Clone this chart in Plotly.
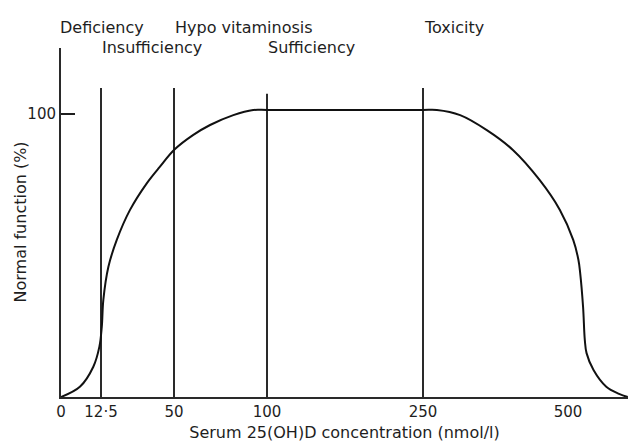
import numpy as np
import plotly.graph_objects as go

# ---------------- data ----------------
# serum 25(OH)D concentration (nmol/l) and normal function (%)
conc = [0, 5.9, 10.1, 12.0, 12.9, 13.7, 16.3, 20.6, 27.4, 36.0, 42.8, 50.4, 60.4, 69.4,
        81.9, 92.6, 100, 150, 200, 250, 274, 314, 360, 405, 451, 486, 509, 518, 521,
        526, 529, 532, 544, 566, 588, 603]
func = [0, 3.6, 10.7, 17.8, 24.8, 34.3, 46.0, 55.5, 66.1, 75.5, 81.4, 87.5, 92.6, 96.1,
        99.6, 101.4, 101.4, 101.4, 101.4, 101.4, 101.4, 99.6, 94.3, 87.3, 76.7, 66.1,
        55.5, 48.4, 43.8, 31.8, 20.1, 15.5, 9.5, 3.6, 1.1, 0.0]

thresholds = [12.5, 50, 100, 250]
threshold_top = [109.2, 109.2, 107.1, 109.2]

labels = ["Deficiency", "Insufficiency", "Hypo vitaminosis", "Sufficiency", "Toxicity"]
label_at = [0, 12.5, 50, 100, 250]
label_row = [0, 1, 0, 1, 0]

tick_vals = [0, 12.5, 50, 100, 250, 500]
tick_text = ["0", "12·5", "50", "100", "250", "500"]

# ---------------- axis scale (non-linear, piecewise) ----------------
SCALE_CONC = [0, 12.5, 50, 100, 250, 500]
SCALE_POS = [0, 40, 113, 206, 362, 507]


def to_pos(c):
    c = np.asarray(c, dtype=float)
    p = np.interp(c, SCALE_CONC, SCALE_POS)
    slope = (SCALE_POS[-1] - SCALE_POS[-2]) / (SCALE_CONC[-1] - SCALE_CONC[-2])
    return np.where(c > SCALE_CONC[-1], SCALE_POS[-1] + (c - SCALE_CONC[-1]) * slope, p)


INK = "#1e1e1e"
FONT = "DejaVu Sans"

fig = go.Figure()

for t, top in zip(thresholds, threshold_top):
    fig.add_trace(go.Scatter(x=to_pos([t, t]), y=[0, top], mode="lines",
                             line=dict(color="#2a2a2a", width=2),
                             hoverinfo="skip", showlegend=False))

fig.add_trace(go.Scatter(x=to_pos(conc), y=func, mode="lines",
                         line=dict(color="#111111", width=2, shape="spline", smoothing=1.0),
                         showlegend=False))

annotations = []
for lab, at, row in zip(labels, label_at, label_row):
    annotations.append(dict(text=lab, x=float(to_pos(at)), xref="x", y=1, yref="paper",
                            xanchor="left", yanchor="middle", showarrow=False,
                            xshift=-3 if at == 0 else -1,
                            yshift=21 if row == 0 else 1,
                            font=dict(family=FONT, size=16, color=INK)))
annotations.append(dict(text="Normal function (%)", textangle=-90, x=0, xref="paper",
                        y=0.5, yref="paper", xanchor="center", yanchor="middle",
                        xshift=-41, showarrow=False,
                        font=dict(family=FONT, size=16, color=INK)))

fig.update_layout(
    width=628, height=442,
    margin=dict(l=61, r=0, t=48, b=45),
    paper_bgcolor="white", plot_bgcolor="white",
    annotations=annotations,
    xaxis=dict(range=[0, 567], tickvals=to_pos(tick_vals), ticktext=tick_text,
               showgrid=False, zeroline=False, showline=True, linecolor="#2a2a2a",
               linewidth=2, ticks="", tickfont=dict(family=FONT, size=15, color=INK),
               title=dict(text="Serum 25(OH)D concentration (nmol/l)",
                          font=dict(family=FONT, size=16, color=INK), standoff=10)),
    yaxis=dict(range=[0, 123.3], tickvals=[100], ticktext=["100"],
               showgrid=False, zeroline=False, showline=True, linecolor="#2a2a2a",
               linewidth=2, ticks="inside", ticklen=14, tickwidth=2, tickcolor="#1e1e1e",
               tickfont=dict(family=FONT, size=15, color=INK)),
)

fig.write_html("out.html", config={"displayModeBar": False},
               post_script="document.body.style.margin='0';document.body.style.padding='0';")
